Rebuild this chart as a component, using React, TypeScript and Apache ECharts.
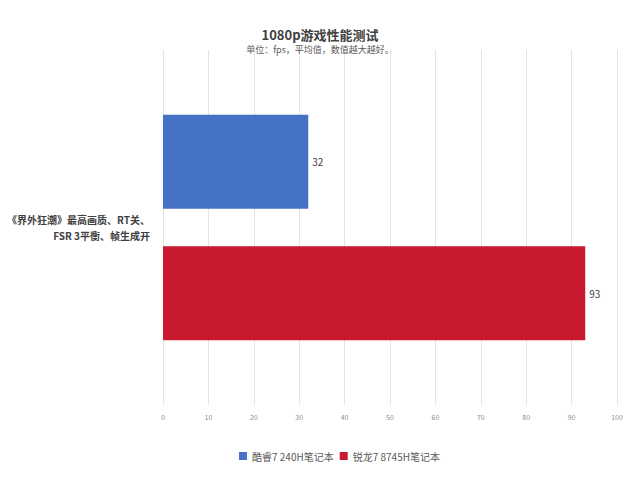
import * as echarts from 'echarts';
import { useEffect, useRef } from 'react';

const categories = ['《界外狂潮》最高画质、RT关、\nFSR 3平衡、帧生成开'];
const seriesNames = ['酷睿7 240H笔记本', '锐龙7 8745H笔记本'];
const intelValues = [32];
const amdValues = [93];
const seriesColors = ['#4472C4', '#C8192F'];

export default function App() {
  const chartRef = useRef<HTMLDivElement>(null);

  useEffect(() => {
    if (!chartRef.current) return;
    const chart = echarts.init(chartRef.current, null, { renderer: 'svg' });
    const font = '"Noto Sans CJK SC", "Noto Sans", sans-serif';

    chart.setOption({
      animation: false,
      backgroundColor: '#FFFFFF',
      textStyle: { fontFamily: font },
      title: {
        text: '1080p游戏性能测试',
        subtext: '单位：fps，平均值，数值越大越好。',
        left: 'center',
        top: 23,
        itemGap: 4,
        textStyle: { fontSize: 13, fontWeight: 'bold', color: '#404040', fontFamily: font },
        subtextStyle: { fontSize: 9, color: '#595959', fontFamily: font },
      },
      legend: {
        data: seriesNames,
        left: 234,
        top: 446,
        icon: 'rect',
        itemWidth: 8,
        itemHeight: 8,
        itemGap: 6,
        textStyle: { fontSize: 10, color: '#595959', fontFamily: font },
      },
      grid: { left: 163, right: 23, top: 50, bottom: 75, containLabel: false },
      xAxis: {
        type: 'value',
        min: 0,
        max: 100,
        interval: 10,
        axisLine: { show: false },
        axisTick: { show: false },
        splitLine: { lineStyle: { color: '#E4E4E4' } },
        axisLabel: { fontSize: 7, color: '#8C8C8C', margin: 8 },
      },
      yAxis: {
        type: 'category',
        data: categories,
        inverse: true,
        axisLine: { show: false },
        axisTick: { show: false },
        axisLabel: {
          fontSize: 10,
          fontWeight: 'bold',
          color: '#404040',
          margin: 13,
          lineHeight: 16,
          align: 'right',
        },
      },
      series: [
        {
          name: seriesNames[0],
          type: 'bar',
          data: intelValues,
          barWidth: 94,
          barGap: '40%',
          itemStyle: { color: seriesColors[0] },
          label: { show: true, position: 'right', fontSize: 10, color: '#404040', distance: 4 },
        },
        {
          name: seriesNames[1],
          type: 'bar',
          data: amdValues,
          barWidth: 94,
          barGap: '40%',
          itemStyle: { color: seriesColors[1] },
          label: { show: true, position: 'right', fontSize: 10, color: '#404040', distance: 4 },
        },
      ],
    });

    return () => chart.dispose();
  }, []);

  return (
    <div
      ref={chartRef}
      style={{ position: 'fixed', left: 0, top: 0, width: '640px', height: '480px' }}
    />
  );
}
